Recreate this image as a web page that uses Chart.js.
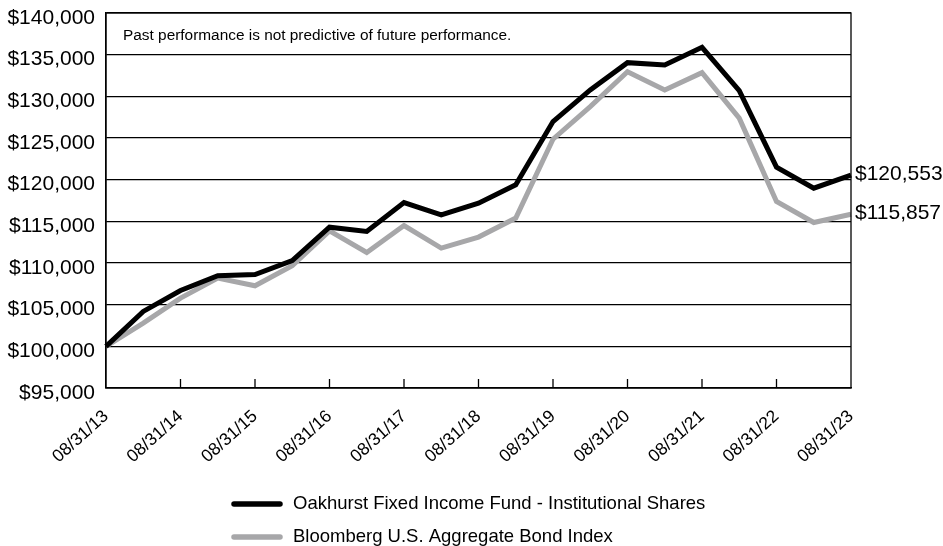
<!DOCTYPE html>
<html>
<head>
<meta charset="utf-8">
<script src="https://cdn.jsdelivr.net/npm/chart.js@4.4.0/dist/chart.umd.min.js"></script>
<style>
    html, body { margin: 0; padding: 0; background: #fff; }
    canvas { display: block; }
</style>
</head>
<body>
<canvas id="growthChart" width="943" height="546"></canvas>
<script>
// semi-annual dates, labelled once a year
const dates = [
    "08/31/13", "02/28/14", "08/31/14", "02/28/15", "08/31/15", "02/29/16", "08/31/16",
    "02/28/17", "08/31/17", "02/28/18", "08/31/18", "02/28/19", "08/31/19", "02/29/20",
    "08/31/20", "02/28/21", "08/31/21", "02/28/22", "08/31/22", "02/28/23", "08/31/23"
];

const fundValues = [
    100000, 104190, 106700, 108470, 108620, 110300, 114300, 113780, 117250, 115780, 117180,
    119380, 126970, 130770, 134040, 133770, 135890, 130690, 121500, 118980, 120553
];

const indexValues = [
    100000, 102790, 105790, 108190, 107270, 109670, 113860, 111270, 114500, 111790, 113110,
    115390, 124860, 128770, 132960, 130770, 132840, 127380, 117380, 114860, 115857
];

const seriesNames = [
    "Oakhurst Fixed Income Fund - Institutional Shares",
    "Bloomberg U.S. Aggregate Bond Index"
];

const lineColors = ["#000000", "#a7a7a9"];

const FONT = '"Liberation Sans", Arial, Helvetica, sans-serif';
const money = v => "$" + Number(v).toLocaleString("en-US");

// box round the plot, inner ticks, note, end labels and legend
const framePlugin = {
    id: "frame",
    afterDraw(chart) {
        const { ctx, chartArea: a, scales } = chart;
        ctx.save();

        ctx.strokeStyle = "#000";
        ctx.lineWidth = 1.3;
        ctx.strokeRect(a.left, a.top, a.right - a.left, a.bottom - a.top);

        // tick marks pointing up into the plot
        ctx.beginPath();
        dates.forEach((d, i) => {
            if (i % 2 === 0 && i > 0 && i < dates.length - 1) {
                const x = scales.x.getPixelForValue(i);
                ctx.moveTo(x, a.bottom);
                ctx.lineTo(x, a.bottom - 9);
            }
        });
        ctx.stroke();

        ctx.fillStyle = "#000";
        ctx.font = "15.4px " + FONT;
        ctx.textBaseline = "alphabetic";
        ctx.textAlign = "left";
        ctx.fillText("Past performance is not predictive of future performance.", a.left + 17, 39.5);

        // value at the end of each line
        ctx.font = "21px " + FONT;
        ctx.textBaseline = "middle";
        chart.data.datasets.forEach((ds, i) => {
            const meta = chart.getDatasetMeta(i);
            const pt = meta.data[meta.data.length - 1];
            ctx.fillText(money(ds.data[ds.data.length - 1]), a.right + 4, pt.y - 1);
        });

        // legend, stacked
        ctx.font = "18.5px " + FONT;
        ctx.lineCap = "round";
        const rows = [504, 537];
        chart.data.datasets.forEach((ds, i) => {
            ctx.strokeStyle = ds.borderColor;
            ctx.lineWidth = 5.5;
            ctx.beginPath();
            ctx.moveTo(234, rows[i]);
            ctx.lineTo(280, rows[i]);
            ctx.stroke();
            ctx.fillStyle = "#000";
            ctx.fillText(ds.label, 293, rows[i]);
        });

        ctx.restore();
    }
};

new Chart(document.getElementById("growthChart"), {
    type: "line",
    data: {
        labels: dates,
        datasets: [{
            label: seriesNames[0],
            data: fundValues,
            borderColor: lineColors[0],
            borderWidth: 5,
            pointRadius: 0,
            tension: 0,
            fill: false
        }, {
            label: seriesNames[1],
            data: indexValues,
            borderColor: lineColors[1],
            borderWidth: 5,
            pointRadius: 0,
            tension: 0,
            fill: false
        }]
    },
    options: {
        responsive: false,
        animation: false,
        layout: {
            padding: { top: 13, right: 92, bottom: 0, left: 0 }
        },
        scales: {
            x: {
                grid: { display: false, drawTicks: false },
                border: { display: true, color: "#000", width: 1.3 },
                ticks: {
                    autoSkip: false,
                    minRotation: 42,
                    maxRotation: 42,
                    padding: 18,
                    color: "#000",
                    font: { family: FONT, size: 17.5 },
                    callback: (v, i) => (i % 2 === 0 ? dates[i] : "")
                },
                afterFit: scale => {
                    scale.height = 158;
                    scale.paddingLeft = 0;
                    scale.paddingRight = 0;
                }
            },
            y: {
                min: 95000,
                max: 140000,
                grid: { color: "#000", lineWidth: 1.3, drawTicks: false },
                border: { display: true, color: "#000", width: 1.3 },
                ticks: {
                    stepSize: 5000,
                    padding: 11,
                    labelOffset: 5,
                    color: "#000",
                    font: { family: FONT, size: 21 },
                    callback: v => money(v)
                },
                afterFit: scale => {
                    scale.width = 106;
                    scale.paddingTop = 0;
                    scale.paddingBottom = 0;
                }
            }
        },
        plugins: {
            legend: { display: false },
            tooltip: { enabled: false }
        }
    },
    plugins: [framePlugin]
});
</script>
</body>
</html>
